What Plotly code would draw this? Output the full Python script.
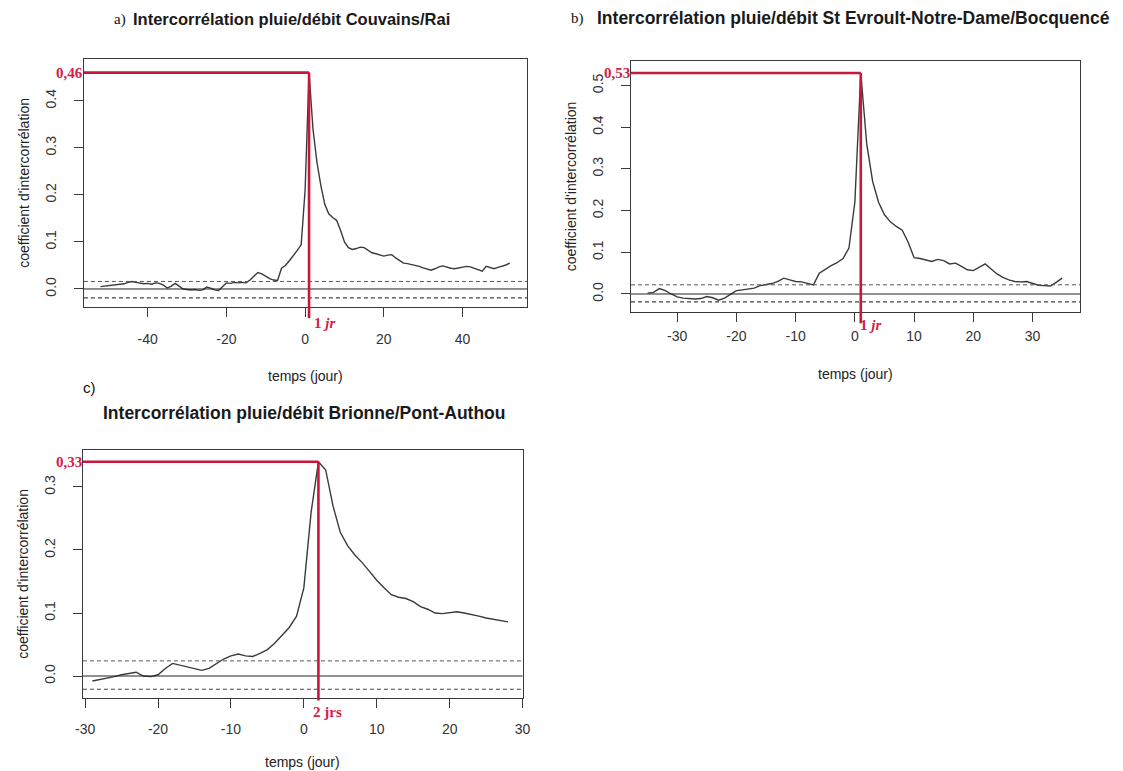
import plotly.graph_objects as go

W, H = 1123, 771

# ---------------- data ----------------
lags_a = list(range(-52, 53))
vals_a = [0.005, 0.006, 0.007, 0.008, 0.009, 0.010, 0.011, 0.014, 0.016, 0.014,
          0.012, 0.011, 0.012, 0.010, 0.013, 0.012, 0.008, 0.002, 0.006, 0.012,
          0.006, 0.000, -0.001, -0.002, -0.001, -0.003, -0.002, 0.004, 0.002, -0.002,
          -0.003, 0.005, 0.013, 0.012, 0.014, 0.013, 0.014, 0.013, 0.019, 0.027,
          0.035, 0.032, 0.027, 0.022, 0.019, 0.018, 0.044, 0.050, 0.060, 0.070,
          0.082, 0.094, 0.21, 0.46, 0.34, 0.27, 0.22, 0.18, 0.16, 0.152,
          0.146, 0.125, 0.100, 0.088, 0.084, 0.086, 0.089, 0.088, 0.082, 0.077,
          0.075, 0.072, 0.070, 0.072, 0.073, 0.066, 0.060, 0.055, 0.054, 0.052,
          0.051, 0.048, 0.045, 0.042, 0.040, 0.043, 0.047, 0.049, 0.046, 0.044,
          0.043, 0.045, 0.047, 0.048, 0.047, 0.044, 0.040, 0.038, 0.048, 0.045,
          0.043, 0.046, 0.048, 0.051, 0.055]

lags_b = list(range(-35, 36))
vals_b = [0.002, 0.004, 0.013, 0.008, 0.000, -0.007, -0.010, -0.011, -0.012, -0.011,
          -0.006, -0.009, -0.015, -0.010, -0.002, 0.008, 0.010, 0.012, 0.014, 0.020,
          0.023, 0.025, 0.030, 0.038, 0.034, 0.030, 0.029, 0.025, 0.022, 0.050,
          0.060, 0.068, 0.075, 0.085, 0.11, 0.22, 0.53, 0.36, 0.27, 0.22,
          0.19, 0.173, 0.162, 0.153, 0.124, 0.087, 0.085, 0.082, 0.078, 0.083,
          0.080, 0.072, 0.074, 0.066, 0.058, 0.056, 0.065, 0.072, 0.060, 0.048,
          0.040, 0.034, 0.030, 0.029, 0.030, 0.025, 0.021, 0.020, 0.019, 0.028,
          0.038]

lags_c = list(range(-29, 29))
vals_c = [-0.008, -0.006, -0.003, -0.001, 0.002, 0.004, 0.006, 0.000, -0.001, 0.002,
          0.012, 0.020, 0.017, 0.014, 0.011, 0.009, 0.012, 0.020, 0.027, 0.032,
          0.035, 0.032, 0.031, 0.036, 0.042, 0.052, 0.065, 0.077, 0.095, 0.14,
          0.26, 0.34, 0.327, 0.27, 0.228, 0.207, 0.192, 0.180, 0.166, 0.152,
          0.140, 0.129, 0.125, 0.123, 0.118, 0.110, 0.106, 0.100, 0.099, 0.100,
          0.102, 0.100, 0.098, 0.095, 0.092, 0.090, 0.088, 0.086]

# confidence bounds (upper, lower)
ci_a = [0.016, -0.019]
ci_b = [0.022, -0.019]
ci_c = [0.024, -0.021]

titles = ["Intercorrélation pluie/débit Couvains/Rai",
          "Intercorrélation pluie/débit St Evroult-Notre-Dame/Bocquencé",
          "Intercorrélation pluie/débit Brionne/Pont-Authou"]
letters = ["a)", "b)", "c)"]
peak_labels = ["0,46", "0,53", "0,33"]
lag_labels = ["<b>1 <i>jr</i></b>", "<b>1 <i>jr</i></b>", "<b>2 jrs</b>"]

xtick_a = [-40, -20, 0, 20, 40]
xtick_b = [-30, -20, -10, 0, 10, 20, 30]
xtick_c = [-30, -20, -10, 0, 10, 20, 30]
ytick_a = [0.0, 0.1, 0.2, 0.3, 0.4]
ytick_b = [0.0, 0.1, 0.2, 0.3, 0.4, 0.5]
ytick_c = [0.0, 0.1, 0.2, 0.3]

xlabel = "temps (jour)"
ylabel = "coefficient d'intercorrélation"

# ---------------- layout geometry (pixels) ----------------
panels = [
    dict(lags=lags_a, vals=vals_a, ci=ci_a, xt=xtick_a, yt=ytick_a,
         box=(77, 527, 59, 307), xr=[-56.2, 56.5], yr=[-0.0383, 0.489],
         vext=-0.045, lagshift=3, lagy=-0.065, xstand=10, xlab=69),
    dict(lags=lags_b, vals=vals_b, ci=ci_b, xt=xtick_b, yt=ytick_b,
         box=(632, 1088, 61, 312), xr=[-37.8, 38.1], yr=[-0.0432, 0.5588],
         vext=-0.045, lagshift=-3, lagy=-0.05, xstand=2, xlab=62),
    dict(lags=lags_c, vals=vals_c, ci=ci_c, xt=xtick_c, yt=ytick_c,
         box=(76, 522, 450, 698), xr=[-30.3, 30.0], yr=[-0.0349, 0.3587],
         vext=-0.01, lagshift=-7, lagy=-0.058, xstand=9, xlab=64),
]

RED = "#c8173a"
RED_TXT = "#d42048"
AX = "#3a3a3a"
SANS = "Liberation Sans, Arial, sans-serif"
SERIF = "Liberation Serif, Times New Roman, serif"


def px(x):
    return x / W


def py(y):
    return 1 - y / H


fig = go.Figure()
shapes = []
annotations = []

for i, p in enumerate(panels):
    n = "" if i == 0 else str(i + 1)
    xa, ya = "x" + n, "y" + n
    x0, x1, y0, y1 = p["box"]
    fig.add_trace(go.Scatter(x=p["lags"], y=p["vals"], mode="lines",
                             line=dict(color="#3a3a3a", width=1.4),
                             xaxis=xa, yaxis=ya, showlegend=False,
                             hoverinfo="skip"))
    common = dict(showline=True, mirror=True, linecolor=AX, linewidth=1,
                  ticks="outside", ticklen=9, tickcolor=AX, tickwidth=1,
                  showgrid=False, zeroline=False,
                  tickfont=dict(family=SANS, size=14, color="#333"))
    fig.layout["xaxis" + n] = dict(domain=[px(x0), px(x1)], range=p["xr"],
                                   anchor=ya, tickvals=p["xt"],
                                   ticktext=[str(v) for v in p["xt"]],
                                   ticklabelstandoff=p["xstand"], **common)
    fig.layout["yaxis" + n] = dict(domain=[py(y1), py(y0)], range=p["yr"],
                                   anchor=xa, tickvals=p["yt"],
                                   ticktext=["%.1f" % v for v in p["yt"]],
                                   tickangle=-90, ticklabelstandoff=12, **common)

    # zero line and confidence bounds
    shapes.append(dict(type="line", xref=xa + " domain", yref=ya, x0=0, x1=1,
                       y0=0, y1=0, line=dict(color="#222", width=1)))
    shapes.append(dict(type="line", xref=xa + " domain", yref=ya, x0=0, x1=1,
                       y0=p["ci"][0], y1=p["ci"][0],
                       line=dict(color="#555", width=1, dash="4px,3px")))
    shapes.append(dict(type="line", xref=xa + " domain", yref=ya, x0=0, x1=1,
                       y0=p["ci"][1], y1=p["ci"][1],
                       line=dict(color="#444", width=1.2, dash="4px,3px")))

    # peak markers
    vmax = max(p["vals"])
    lpk = p["lags"][p["vals"].index(vmax)]
    shapes.append(dict(type="line", xref=xa, yref=ya, x0=p["xr"][0], x1=lpk,
                       y0=vmax, y1=vmax, line=dict(color=RED, width=2.6)))
    fx = (lpk - p["xr"][0]) / (p["xr"][1] - p["xr"][0])
    fy = (vmax - p["yr"][0]) / (p["yr"][1] - p["yr"][0])
    shapes.append(dict(type="line", xref=xa + " domain", yref=ya + " domain",
                       x0=fx, x1=fx, y0=fy, y1=p["vext"],
                       line=dict(color=RED, width=2.6)))
    annotations.append(dict(text="<b>" + peak_labels[i] + "</b>", xref="paper",
                            yref=ya, x=px(x0 + 1), y=vmax, xanchor="right",
                            yanchor="middle", showarrow=False,
                            font=dict(family=SERIF, size=15, color=RED_TXT)))
    annotations.append(dict(text=lag_labels[i], xref=xa, yref=ya + " domain",
                            x=lpk, y=p["lagy"], xanchor="left", yanchor="middle",
                            xshift=p["lagshift"], showarrow=False,
                            font=dict(family=SERIF, size=15, color=RED_TXT)))

    # axis titles
    annotations.append(dict(text=xlabel, xref="paper", yref="paper",
                            x=px((x0 + x1) / 2), y=py(y1 + p["xlab"]),
                            xanchor="center", yanchor="middle", showarrow=False,
                            font=dict(family=SANS, size=14, color="#222")))
    annotations.append(dict(text=ylabel, xref="paper", yref="paper",
                            x=px(x0 - 61), y=py((y0 + y1) / 2), textangle=-90,
                            xanchor="center", yanchor="middle", showarrow=False,
                            font=dict(family=SANS, size=14, color="#222")))

# titles: (letter x, title x, letter y, title y, title size)
title_pos = [(106, 125, 19, 19, 16.5), (569, 595, 18, 18, 17.5),
             (74, 94, 387, 413, 17.5)]
for i, (lx, tx, ly, ty, fs) in enumerate(title_pos):
    annotations.append(dict(text=letters[i], xref="paper", yref="paper",
                            x=px(lx), y=py(ly), xanchor="left", yanchor="middle",
                            showarrow=False,
                            font=dict(family=SERIF if i < 2 else SANS, size=15,
                                      color="#111")))
    annotations.append(dict(text="<b>" + titles[i] + "</b>", xref="paper",
                            yref="paper", x=px(tx), y=py(ty), xanchor="left",
                            yanchor="middle", showarrow=False,
                            font=dict(family=SANS, size=fs, color="#1a1a1a")))

fig.update_layout(width=W, height=H, margin=dict(l=0, r=0, t=0, b=0),
                  paper_bgcolor="white", plot_bgcolor="white",
                  shapes=shapes, annotations=annotations, showlegend=False)

fig.write_html("out.html")
